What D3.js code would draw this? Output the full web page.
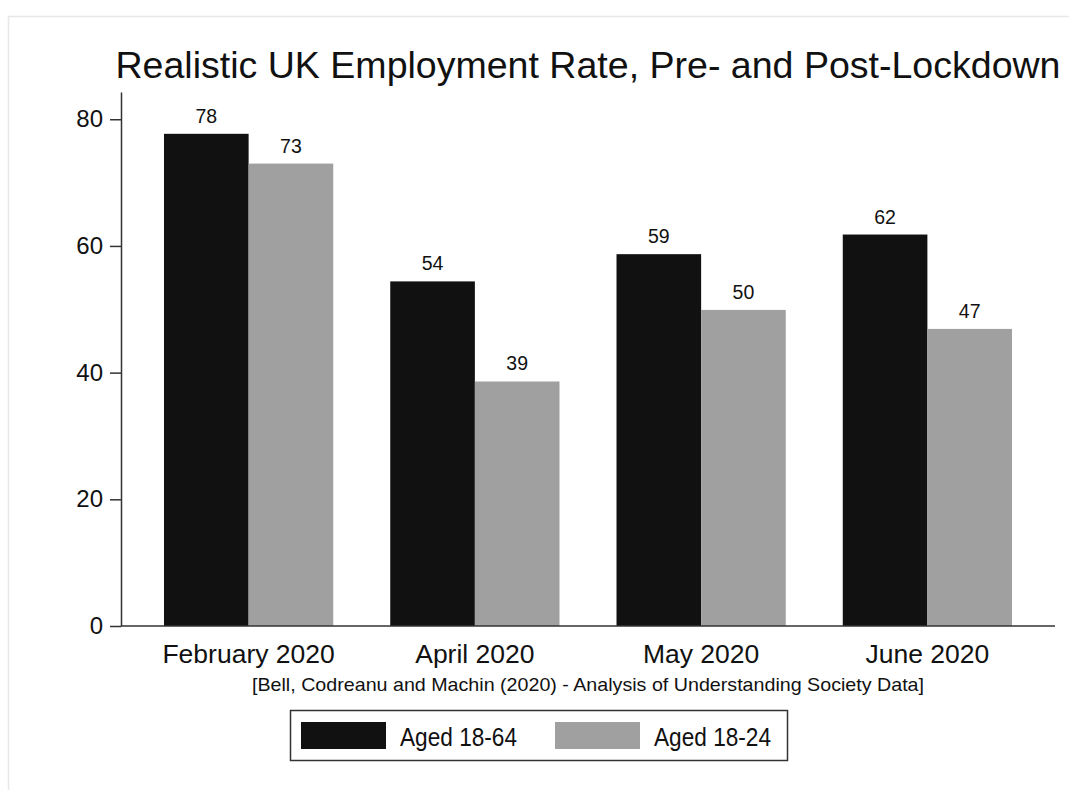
<!DOCTYPE html>
<html lang="en">
<head>
    <meta charset="utf-8"/>
    <title>Realistic UK Employment Rate</title>
    <script src="https://d3js.org/d3.v7.min.js"></script>
    <style>
        body { margin: 0; background: #fff; }
        text { font-family: "Liberation Sans", Arial, Helvetica, sans-serif; fill: #111; }
        .axis path, .axis line { stroke: #333; stroke-width: 1.5; }
    </style>
</head>
<body>
<svg id="chart" width="1069" height="790"></svg>

<script>
    // datos
    const months = ["February 2020", "April 2020", "May 2020", "June 2020"];
    const groups = ["Aged 18-64", "Aged 18-24"];
    const aged1864 = [77.7, 54.4, 58.7, 61.8];
    const aged1824 = [73.0, 38.6, 49.9, 46.9];
    const yTicks = [0, 20, 40, 60, 80];
    const title = "Realistic UK Employment Rate, Pre- and Post-Lockdown";
    const source = "[Bell, Codreanu and Machin (2020) - Analysis of Understanding Society Data]";

    const colors = ["#111111", "#a0a0a0"];

    const svg = d3.select("#chart");

    // marco gris claro
    svg.append("line").attr("x1", 8).attr("x2", 1069).attr("y1", 16.5).attr("y2", 16.5)
        .attr("stroke", "#e8e8e8").attr("stroke-width", 1.5);
    svg.append("line").attr("x1", 8.5).attr("x2", 8.5).attr("y1", 16).attr("y2", 790)
        .attr("stroke", "#e8e8e8").attr("stroke-width", 1.5);

    // escalas
    const plotLeft = 121, plotRight = 1055, plotTop = 92, plotBottom = 626;
    const x = d3.scaleBand().domain(months).range([plotLeft, plotRight])
        .paddingInner(0.252).paddingOuter(0.19);
    const xSub = d3.scaleBand().domain(groups).range([0, x.bandwidth()]);
    const y = d3.scaleLinear().domain([0, 84.3]).range([plotBottom, plotTop]);

    // barras
    const rows = months.map((m, i) => ({month: m, values: [aged1864[i], aged1824[i]]}));

    const g = svg.selectAll(".grp").data(rows).enter().append("g")
        .attr("transform", d => "translate(" + x(d.month) + ",0)");

    g.selectAll("rect").data(d => d.values.map((v, j) => ({key: groups[j], v: v, j: j})))
        .enter().append("rect")
        .attr("x", d => xSub(d.key))
        .attr("width", xSub.bandwidth())
        .attr("y", d => y(d.v))
        .attr("height", d => y(0) - y(d.v))
        .attr("fill", d => colors[d.j]);

    // etiquetas de valor
    g.selectAll(".lab").data(d => d.values.map((v, j) => ({key: groups[j], v: v})))
        .enter().append("text")
        .attr("x", d => xSub(d.key) + xSub.bandwidth() / 2)
        .attr("y", d => y(d.v) - 11)
        .attr("text-anchor", "middle")
        .style("font-size", "19.5px")
        .text(d => Math.round(d.v));

    // eje Y
    svg.append("g").attr("class", "axis")
        .attr("transform", "translate(" + plotLeft + ",0)")
        .call(d3.axisLeft(y).tickValues(yTicks).tickSize(11).tickSizeOuter(0).tickPadding(7))
        .call(a => a.selectAll("text").style("font-size", "24px").style("font-family", "Liberation Sans, Arial, sans-serif").attr("fill", "#111"));

    // eje X (solo linea)
    svg.append("line").attr("x1", plotLeft).attr("x2", plotRight).attr("y1", plotBottom).attr("y2", plotBottom)
        .attr("stroke", "#333").attr("stroke-width", 1.5);

    svg.selectAll(".month").data(months).enter().append("text")
        .attr("x", d => x(d) + x.bandwidth() / 2)
        .attr("y", 663)
        .attr("text-anchor", "middle")
        .style("font-size", "26.5px")
        .text(d => d);

    // titulo y fuente
    svg.append("text").attr("x", 588).attr("y", 78).attr("text-anchor", "middle")
        .style("font-size", "37px")
        .attr("textLength", 945).attr("lengthAdjust", "spacingAndGlyphs")
        .text(title);

    svg.append("text").attr("x", 588).attr("y", 691).attr("text-anchor", "middle")
        .style("font-size", "18.5px")
        .attr("textLength", 672).attr("lengthAdjust", "spacingAndGlyphs")
        .text(source);

    // leyenda
    const legend = svg.append("g");
    legend.append("rect").attr("x", 290.5).attr("y", 710.5).attr("width", 497).attr("height", 50)
        .attr("fill", "#fff").attr("stroke", "#333").attr("stroke-width", 1.5);
    const li = legend.selectAll(".item").data(groups).enter().append("g")
        .attr("transform", (d, i) => "translate(" + (301 + i * 254) + ",722)");
    li.append("rect").attr("width", 85).attr("height", 27).attr("fill", (d, i) => colors[i]);
    li.append("text").attr("x", 99).attr("y", 24).style("font-size", "25px")
        .attr("textLength", 117).attr("lengthAdjust", "spacingAndGlyphs")
        .text(d => d);
</script>
</body>
</html>
